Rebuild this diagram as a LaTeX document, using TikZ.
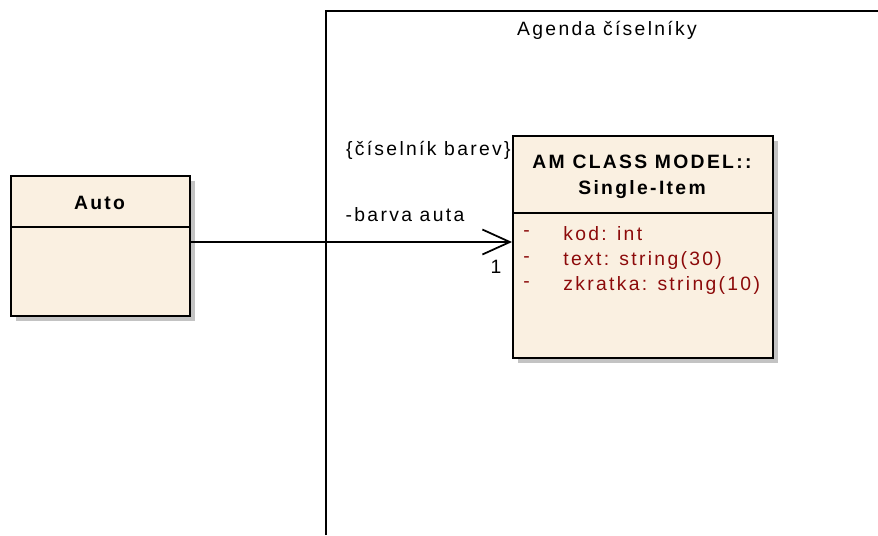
\documentclass[tikz,border=0pt]{standalone}
\usepackage{fontspec}
\setmainfont{Liberation Sans}[LetterSpace=12]
\usetikzlibrary{arrows.meta}

\definecolor{classfill}{RGB}{250,240,225}
\definecolor{attrred}{RGB}{140,10,10}
\definecolor{shadowgray}{RGB}{195,195,195}

\tikzset{
    classbox/.style={draw, line width=1pt, fill=classfill, anchor=north west, inner sep=0pt},
    attr/.style={font=\fontsize{11}{13}\selectfont, text=attrred, anchor=west, inner sep=0pt},
    label/.style={font=\fontsize{11}{13}\selectfont, inner sep=0pt},
    assoc/.style={line width=1pt, -{Straight Barb[length=0.55cm, width=0.5cm, line width=1pt]}}
}

\begin{document}
\begin{tikzpicture}[x=0.02cm, y=-0.02cm]
    \useasboundingbox (0,0) rectangle (878,535);

    % Package frame
    \draw[line width=1pt] (326,535) -- (326,11) -- (880,11);
    \node[label] (pkgname) at (607,30) {Agenda číselníky};

    % Shadows
    \fill[shadowgray] (16,181) rectangle (195,321);
    \fill[shadowgray] (518,141) rectangle (778,363);

    % Class Auto
    \node[classbox, minimum width=3.58cm, minimum height=2.8cm] (auto) at (10,175) {};
    \draw[line width=1pt] (10,227) -- (189,227);
    \node[label, font=\fontsize{11}{13}\selectfont\bfseries] (autoname) at (99.5,203) {Auto};

    % Class Single-Item
    \node[classbox, minimum width=5.2cm, minimum height=4.44cm] (item) at (512,135) {};
    \draw[line width=1pt] (512,213) -- (772,213);
    \node[label, font=\fontsize{11}{13}\selectfont\bfseries, align=center] (itemname) at (642,177)
        {AM CLASS MODEL::\\[2pt]Single-Item};

    % Attributes
    \foreach \y/\txt [count=\i] in {234/kod: int, 260/text: string(30), 285/zkratka: string(10)} {
        \node[attr] (dash\i) at (523,\y) {-};
        \node[attr] (attr\i) at (563,\y) {\txt};
    }

    % Association
    \draw[assoc] (auto.east |- 0,242) -- (item.west |- 0,242);
    \node[label, anchor=south] (role) at (405,222) {-barva auta};
    \node[label] (mult) at (496,267) {1};
    \node[label, anchor=east] (constraint) at (511,150) {\{číselník barev\}};
\end{tikzpicture}
\end{document}
